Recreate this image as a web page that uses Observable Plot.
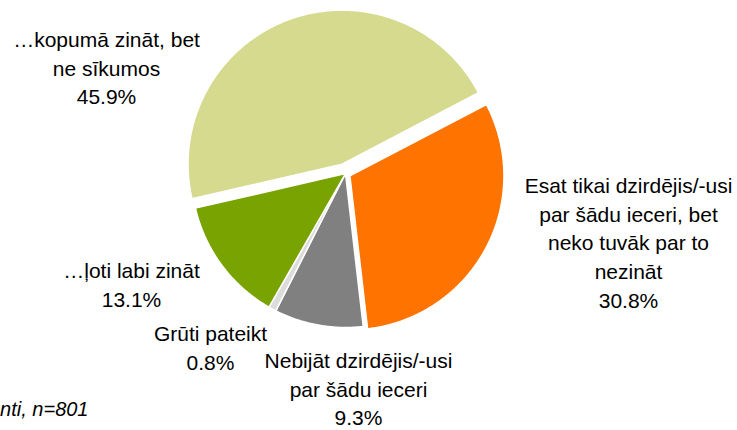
<!DOCTYPE html>
<html>
<head>
<meta charset="utf-8">
<script src="https://cdn.jsdelivr.net/npm/d3@7"></script>
<script src="https://cdn.jsdelivr.net/npm/@observablehq/plot@0.6"></script>
<style>
  html, body { margin: 0; padding: 0; background: #fff; }
  #chart { width: 737px; height: 430px; overflow: hidden; }
</style>
</head>
<body>
<div id="chart"></div>
<script>
// ---- data ----
const categories = [
  "…kopumā zināt, bet\nne sīkumos",
  "Esat tikai dzirdējis/-usi\npar šādu ieceri, bet\nneko tuvāk par to\nnezināt",
  "Nebijāt dzirdējis/-usi\npar šādu ieceri",
  "Grūti pateikt",
  "…ļoti labi zināt"
];
const values = [45.9, 30.8, 9.3, 0.8, 13.1];
const colors = ["#D5DA8E", "#FF7300", "#808080", "#DCDCDC", "#78A300"];
const caption = "Visi respondenti, n=801";

// ---- layout (not data) ----
const W = 737, H = 430;
const cx = 345, cy = 173, R = 154, START = 257; // degrees clockwise from north
const explode = [10, 5, 0, 0, 0];
const labelPos = [[106, 26], [628, 172], [358, 347], [210, 320], [131, 257]];
const FS = 21;

// build slice outlines from the values
const total = d3.sum(values);
let acc = START;
const pts = [];
values.forEach((v, i) => {
  const a0 = acc, a1 = acc + v / total * 360;
  acc = a1;
  const mid = (a0 + a1) / 2 * Math.PI / 180;
  const ox = cx + explode[i] * Math.sin(mid);
  const oy = cy - explode[i] * Math.cos(mid);
  pts.push({k: i, x: ox, y: oy, c: colors[i]});
  const n = Math.max(2, Math.ceil((a1 - a0) / 0.5));
  for (let j = 0; j <= n; j++) {
    const a = (a0 + (a1 - a0) * j / n) * Math.PI / 180;
    pts.push({k: i, x: ox + R * Math.sin(a), y: oy - R * Math.cos(a), c: colors[i]});
  }
});

const labels = values.map((v, i) => ({
  x: labelPos[i][0],
  y: labelPos[i][1],
  text: categories[i] + "\n" + v.toFixed(1) + "%"
}));

const chart = Plot.plot({
  width: W,
  height: H,
  margin: 0,
  x: {domain: [0, W], range: [0, W], axis: null},
  y: {domain: [0, H], range: [0, H], axis: null},
  color: {type: "identity"},
  style: {fontFamily: "'Liberation Sans', Arial, sans-serif", background: "#fff", overflow: "hidden"},
  marks: [
    Plot.line(pts, {x: "x", y: "y", z: "k", fill: "c", stroke: "#fff", strokeWidth: 1.5, curve: "linear-closed"}),
    Plot.text(labels, {x: "x", y: "y", text: "text", textAnchor: "middle", lineAnchor: "top",
      lineHeight: 1.367, fontSize: FS, fill: "#000"}),
    Plot.text([caption], {x: () => 88, y: () => 415 - 0.71 * 20, text: d => d, textAnchor: "end",
      lineAnchor: "top", fontSize: 20, fontStyle: "italic", fill: "#000"})
  ]
});
document.getElementById("chart").appendChild(chart);
</script>
</body>
</html>
